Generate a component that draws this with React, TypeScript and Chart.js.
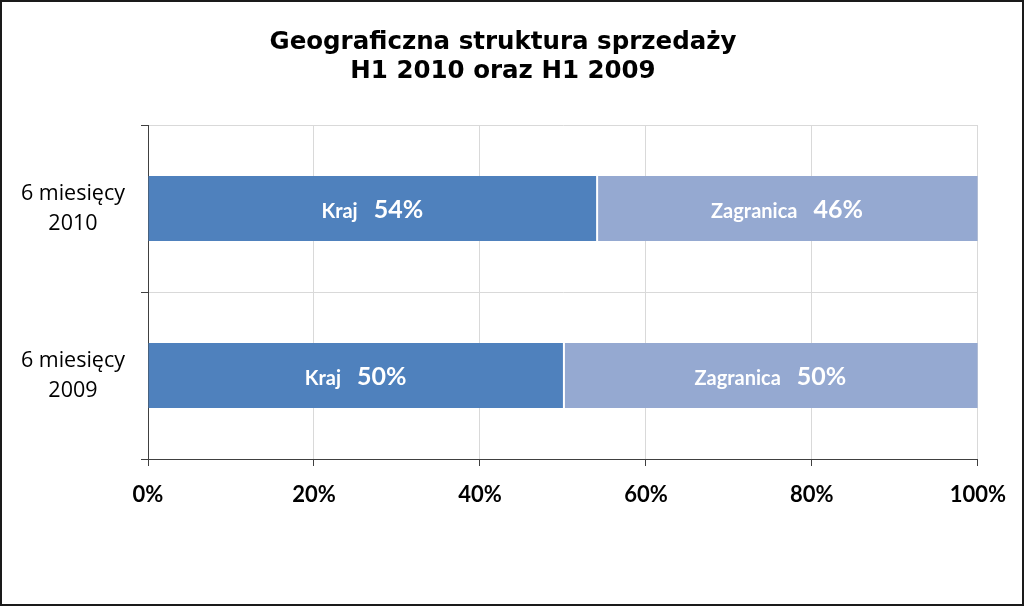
import React, { useEffect, useRef } from 'react';
import { Chart, registerables } from 'chart.js';

Chart.register(...registerables);

const titleLines = ['Geograficzna struktura sprzedaży', 'H1 2010 oraz H1 2009'];
const categories = [['6 miesięcy', '2010'], ['6 miesięcy', '2009']];
const seriesNames = ['Kraj', 'Zagranica'];
const krajValues = [54, 50];
const zagranicaValues = [46, 50];
const xTickValues = [0, 20, 40, 60, 80, 100];

const titlePlugin = {
  id: 'customTitle',
  afterDraw(chart: any) {
    const ctx = chart.ctx;
    ctx.save();
    ctx.fillStyle = '#000';
    ctx.font = 'bold 24.5px "DejaVu Sans"';
    ctx.textAlign = 'center';
    ctx.textBaseline = 'alphabetic';
    ctx.fillText(titleLines[0], 501, 47);
    ctx.fillText(titleLines[1], 501, 76);
    ctx.restore();
  },
};

const labelPlugin = {
  id: 'segmentLabels',
  afterDatasetsDraw(chart: any) {
    const ctx = chart.ctx;
    ctx.save();
    ctx.fillStyle = '#fff';
    ctx.textBaseline = 'alphabetic';
    ctx.textAlign = 'left';
    const nameFont = 'bold 20px Lato';
    const valFont = 'bold 25px Lato';
    const gap = 16;
    chart.data.datasets.forEach((ds: any, di: number) => {
      const meta = chart.getDatasetMeta(di);
      meta.data.forEach((el: any, i: number) => {
        const name = ds.label;
        const val = ds.data[i] + '%';
        ctx.font = nameFont;
        const wn = ctx.measureText(name).width;
        ctx.font = valFont;
        const wv = ctx.measureText(val).width;
        const cx = (el.x + el.base) / 2;
        const start = cx - (wn + gap + wv) / 2;
        const by = el.y + 9;
        ctx.font = nameFont;
        ctx.fillText(name, start, by);
        ctx.font = valFont;
        ctx.fillText(val, start + wn + gap, by);
      });
    });
    ctx.restore();
  },
};

export default function App() {
  const ref = useRef<HTMLCanvasElement | null>(null);
  useEffect(() => {
    if (!ref.current) return;
    const chart = new Chart(ref.current, {
      type: 'bar',
      data: {
        labels: categories as any,
        datasets: [
          {
            label: seriesNames[0],
            data: krajValues,
            backgroundColor: '#4F81BD',
            borderWidth: 0,
            categoryPercentage: 1,
            barPercentage: 0.39,
          },
          {
            label: seriesNames[1],
            data: zagranicaValues,
            backgroundColor: '#95A9D1',
            borderColor: '#FFFFFF',
            borderWidth: { left: 2, right: 0, top: 0, bottom: 0 } as any,
            borderSkipped: false,
            categoryPercentage: 1,
            barPercentage: 0.39,
          },
        ],
      },
      options: {
        indexAxis: 'y',
        responsive: false,
        animation: false,
        layout: { padding: { top: 123, right: 40, left: 0, bottom: 0 } },
        plugins: {
          legend: { display: false },
          title: { display: false },
          tooltip: { enabled: false },
        },
        scales: {
          x: {
            stacked: true,
            min: 0,
            max: 100,
            afterBuildTicks: (s: any) => {
              s.ticks = xTickValues.map((v) => ({ value: v }));
            },
            ticks: {
              callback: (v: any) => v + '%',
              font: { family: 'Lato', size: 22, weight: 'bold' },
              color: '#000',
              padding: 16,
              maxRotation: 0,
            },
            grid: { color: '#D9D9D9', tickColor: '#404040', tickLength: 7, lineWidth: 1 },
            border: { color: '#404040', width: 1 },
            afterFit: (s: any) => {
              s.height = 145;
            },
          },
          y: {
            stacked: true,
            ticks: {
              font: { family: 'Open Sans', size: 21.5, lineHeight: 1.4 },
              color: '#000',
              padding: 16,
              crossAlign: 'center',
            },
            grid: { color: '#D9D9D9', tickColor: '#404040', tickLength: 7, offset: true },
            border: { color: '#404040', width: 1 },
            afterFit: (s: any) => {
              s.width = 146;
            },
          },
        },
      } as any,
      plugins: [titlePlugin, labelPlugin],
    });
    return () => chart.destroy();
  }, []);
  return (
    <div
      style={{
        position: 'fixed',
        left: 0,
        top: 0,
        width: 1024,
        height: 606,
        boxSizing: 'border-box',
        border: '2px solid #1a1a1a',
        background: '#fff',
      }}
    >
      <canvas ref={ref} width={1020} height={602} style={{ display: 'block' }} />
    </div>
  );
}
